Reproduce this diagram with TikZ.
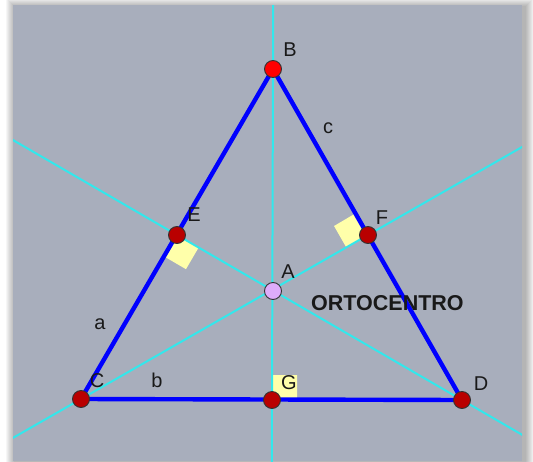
\documentclass[tikz,border=0pt]{standalone}
\usepackage{fontspec}
\setsansfont{Liberation Sans}
\usepackage{tikz}
\usetikzlibrary{calc}
\definecolor{panelgray}{RGB}{168,174,188}
\definecolor{altcyan}{RGB}{50,232,236}
\definecolor{sideblue}{RGB}{0,0,255}
\definecolor{ptred}{RGB}{185,0,0}
\definecolor{ptlilac}{RGB}{222,172,250}
\definecolor{angyellow}{RGB}{255,255,170}
\tikzset{
  every picture/.style={line join=round, line cap=round},
  altline/.style={altcyan, line width=2pt},
  sideline/.style={sideblue, line width=4.4pt},
  vertex/.style={circle, draw=black!80, line width=0.9pt, fill=ptred, minimum size=17pt, inner sep=0pt},
  ortho/.style={vertex, fill=ptlilac},
  lab/.style={font=\sffamily\fontsize{20}{22}\selectfont, text=black!90, inner sep=0pt},
  rightang/.style={fill=angyellow},
}

\begin{document}
\begin{tikzpicture}[x=1pt,y=-1pt]
\useasboundingbox (0,0) rectangle (533,461);
\fill[white] (0,0) rectangle (533,461);
% soft shadow round the panel
\foreach \i in {1,...,9}
  \fill[black,opacity=0.035] (15-\i,7-\i) rectangle (525+\i,470);
\fill[panelgray] (13,5) rectangle (522,461);

\coordinate (B) at (273,69);
\coordinate (C) at (81,399);
\coordinate (D) at (462,400);
\coordinate (A) at (273,291);
\coordinate (E) at (177,235);
\coordinate (F) at (368,235);
\coordinate (G) at (272,400);

% right angle marks
\coordinate (ec) at ($(E)!25pt!(C)$);
\coordinate (ea) at ($(E)!25pt!(A)$);
\fill[rightang] (E) -- (ec) -- ($(ec)+(ea)-(E)$) -- (ea) -- cycle;
\coordinate (fb) at ($(F)!25pt!(B)$);
\coordinate (fa) at ($(F)!25pt!(A)$);
\fill[rightang] (F) -- (fb) -- ($(fb)+(fa)-(F)$) -- (fa) -- cycle;
\coordinate (gd) at ($(G)!25pt!(D)$);
\coordinate (gb) at ($(G)!25pt!(B)$);
\fill[rightang] (G) -- (gd) -- ($(gd)+(gb)-(G)$) -- (gb) -- cycle;

% altitudes
\begin{scope}
\clip (13,5) rectangle (522,461);
\draw[altline] ($(B)!-2!(G)$) -- ($(B)!3!(G)$);
\draw[altline] ($(C)!-1!(F)$) -- ($(C)!3!(F)$);
\draw[altline] ($(D)!-1!(E)$) -- ($(D)!3!(E)$);
\end{scope}

% triangle
\draw[sideline] (C) -- (B) -- (D) -- cycle;

\node[vertex, fill=red] (b) at (B) {};
\node[vertex] (c) at (C) {};
\node[vertex] (d) at (D) {};
\node[vertex] (e) at (E) {};
\node[vertex] (f) at (F) {};
\node[vertex] (g) at (G) {};
\node[ortho] (a) at (A) {};

\node[lab] (lb) at (290,50) {B};
\node[lab] (lc) at (97,381) {C};
\node[lab] (ld) at (481,384) {D};
\node[lab] (le) at (194,215) {E};
\node[lab] (lf) at (382,218) {F};
\node[lab] (lg) at (289,383) {G};
\node[lab] (la) at (288,272) {A};
\node[lab] (sa) at (100,324) {a};
\node[lab] (sb) at (157,380) {b};
\node[lab] (sc) at (328,128) {c};
\node[lab, font=\sffamily\bfseries\fontsize{21.5}{23}\selectfont, anchor=west] (orto) at (311,303) {ORTOCENTRO};
\end{tikzpicture}
\end{document}
